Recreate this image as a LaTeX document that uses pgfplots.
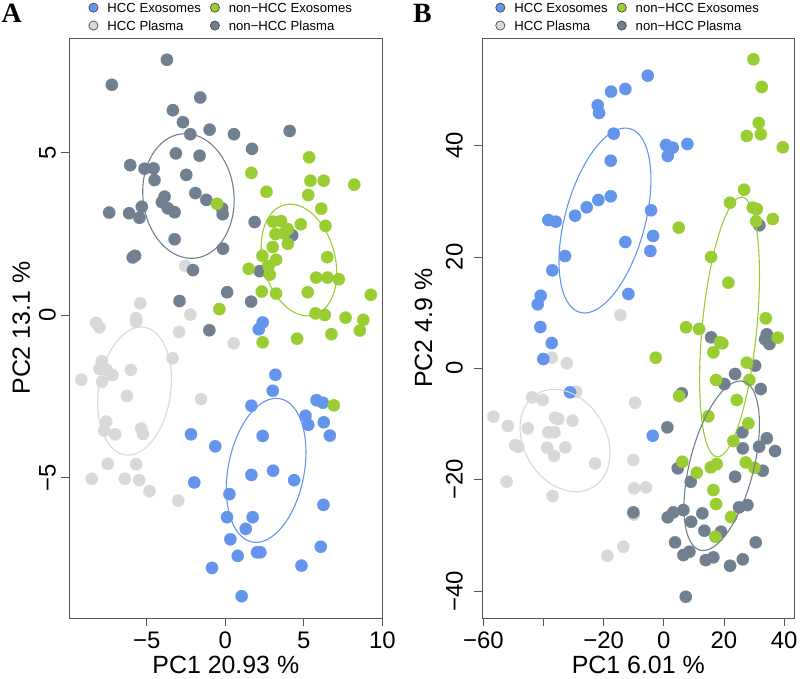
\documentclass[border=0pt]{standalone}
\usepackage{fontspec}
\setmainfont{Liberation Sans}
\newfontfamily\lserif{Liberation Serif}
\usepackage{pgfplots}
\pgfplotsset{compat=1.18}
\definecolor{cblue}{HTML}{6495ED}
\definecolor{cgreen}{HTML}{9ACD32}
\definecolor{clight}{HTML}{D9D9D9}
\definecolor{cdark}{HTML}{708090}
\definecolor{cbox}{HTML}{555555}
\pgfplotsset{
  pca/.style={
    scale only axis, height=580.3bp,
    axis line style={cbox, line width=0.9bp},
    xtick pos=bottom, ytick pos=left,
    tick align=outside, major tick length=8bp,
    tick style={cbox, line width=0.9bp},
    ticklabel style={font=\fontsize{24}{28}\selectfont, inner sep=0pt},
    xticklabel style={anchor=north},
    yticklabel style={rotate=90, anchor=south},
    every axis x label/.style={at={(axis description cs:0.5,0)}, anchor=base, yshift=-55.5bp, inner sep=0pt, font=\fontsize{25}{30}\selectfont},
    clip=true,
    legend columns=2,
    legend cell align=left,
    legend style={draw=none, fill=none, inner sep=0pt, outer sep=0pt,
      font=\fontsize{13.2}{15}\selectfont, row sep=8bp,
      nodes={inner sep=0pt, text height=9.5bp, text depth=0pt},
      /tikz/every odd column/.append style={column sep=9bp},
      /tikz/every even column/.append style={column sep=9bp}},
    legend image code/.code={\filldraw[#1] (4.6bp,0bp) circle[radius=4.6bp];},
  },
  pt/.style={only marks, mark=*, color=#1, mark size=6.2bp, mark options={draw=#1, fill=#1, line width=0.1pt}, forget plot},
}
\begin{document}
\begin{tikzpicture}
\useasboundingbox (0,0) rectangle (800bp,679bp);
% ---------------- Panel A
\begin{axis}[pca, at={(69.3bp,60.7bp)}, anchor=south west, width=313bp,
  xmin=-9.94, xmax=10.0, ymin=-9.33, ymax=8.52,
  xtick={-5,0,5,10}, xticklabels={−5,0,5,10},
  ytick={-5,0,5}, yticklabels={−5,0,5},
  xticklabel shift=5.4bp, yticklabel shift=5.3bp,
  xlabel={PC1 20.93 \%}, ylabel={PC2 13.1 \%},
  every axis y label/.style={at={(axis description cs:-0.1256,0.5)}, rotate=90, anchor=base, font=\fontsize{25}{30}\selectfont},
  legend style={at={(axis description cs:0,1)}, anchor=north west, xshift=19.2bp, yshift=35.3bp}]
\addplot[pt=clight] coordinates {(-5.42,0.36) (-8.23,-0.24) (-8.02,-0.38) (-5.68,-0.10) (-5.68,-0.21) (-2.23,0.01) (-2.95,-0.52) (-3.36,-1.33) (-7.87,-1.42) (-8.02,-1.66) (-7.55,-1.69) (-7.19,-1.85) (-6.02,-1.69) (-9.17,-1.99) (-7.85,-2.05) (-6.27,-2.49) (-1.55,-2.59) (-7.59,-3.28) (-7.72,-3.56) (-7.02,-3.67) (-5.36,-3.49) (-5.25,-3.66) (-7.49,-4.58) (-5.68,-4.59) (-8.51,-5.04) (-6.40,-5.04) (-5.49,-5.08) (-4.83,-5.42) (-3.00,-5.71) (-2.55,1.51) (0.53,-0.87)};
\addplot[pt=cdark] coordinates {(-3.72,7.85) (-7.23,7.08) (-1.60,6.69) (-3.34,6.30) (-2.70,5.93) (-2.23,5.56) (-1.00,5.70) (0.55,5.56) (4.10,5.66) (1.70,5.11) (-3.15,4.97) (-1.64,4.90) (-6.06,4.61) (-5.15,4.50) (-4.57,4.51) (-4.51,4.15) (-2.49,4.31) (-1.91,3.75) (-1.21,3.54) (-0.21,3.28) (-0.17,3.10) (-3.87,3.64) (-4.04,3.47) (-3.66,3.28) (-3.23,3.16) (-5.32,3.33) (-6.13,3.13) (-5.47,2.99) (-7.40,3.15) (-3.23,2.33) (-0.15,2.04) (-5.9,1.77) (-5.75,1.82) (-2.06,1.38) (-2.92,0.43) (0.11,0.70) (1.87,2.86) (4.26,2.45) (2.19,1.35) (1.64,0.41) (-1.02,-0.47)};
\addplot[pt=cblue] coordinates {(-2.19,-3.67) (-0.64,-4.04) (-1.98,-5.15) (-0.85,-7.78) (2.38,-0.23) (2.13,-0.44) (3.19,-1.84) (3.02,-2.33) (1.66,-2.79) (5.81,-2.62) (6.21,-2.70) (5.11,-3.10) (5.28,-3.38) (6.27,-3.30) (6.66,-3.71) (2.38,-3.72) (1.66,-4.92) (3.04,-4.79) (4.38,-5.08) (0.26,-5.51) (0.11,-6.22) (1.74,-6.22) (1.30,-6.58) (0.32,-6.90) (0.79,-7.41) (2.02,-7.30) (2.23,-7.30) (6.25,-5.84) (6.08,-7.13) (4.85,-7.71) (1.04,-8.65)};
\addplot[pt=cgreen] coordinates {(-0.53,3.42) (-0.38,0.18) (5.34,4.85) (1.66,4.37) (5.42,4.13) (6.27,4.13) (8.21,4.01) (2.62,3.79) (5.28,3.69) (6.11,3.27) (3.04,2.87) (3.55,2.89) (4.81,2.79) (6.38,2.74) (3.98,2.64) (3.19,2.49) (3.72,2.51) (3.98,2.19) (3.02,2.09) (2.36,1.82) (3.23,1.70) (6.49,1.78) (2.76,1.51) (1.49,1.42) (2.83,1.24) (5.79,1.15) (6.51,1.15) (7.23,1.10) (2.32,0.72) (3.23,0.66) (5.25,0.70) (9.27,0.62) (5.74,0.05) (6.34,0.0) (7.66,-0.08) (8.79,-0.15) (8.57,-0.48) (6.76,-0.59) (4.57,-0.73) (2.38,-0.84) (6.91,-2.78)};
\coordinate (eAd) at (axis cs:-2.35,3.66);
\coordinate (eAg) at (axis cs:4.69,1.69);
\coordinate (eAl) at (axis cs:-5.78,-2.34);
\coordinate (eAb) at (axis cs:2.60,-4.78);
\addlegendimage{fill=cblue, draw=black!70, line width=0.7bp}
\addlegendentry{HCC Exosomes}
\addlegendimage{fill=cgreen, draw=black!70, line width=0.7bp}
\addlegendentry{non−HCC Exosomes}
\addlegendimage{fill=clight, draw=black!70, line width=0.7bp}
\addlegendentry{HCC Plasma}
\addlegendimage{fill=cdark, draw=black!70, line width=0.7bp}
\addlegendentry{non−HCC Plasma}
\end{axis}
\draw[cdark, line width=1.1bp, rotate around={6:(eAd)}] (eAd) ellipse [x radius=45.5bp, y radius=62.5bp];
\draw[cgreen, line width=1.1bp, rotate around={15:(eAg)}] (eAg) ellipse [x radius=36bp, y radius=57bp];
\draw[clight, line width=1.1bp, rotate around={-8.5:(eAl)}] (eAl) ellipse [x radius=36bp, y radius=64.5bp];
\draw[cblue, line width=1.1bp, rotate around={-11:(eAb)}] (eAb) ellipse [x radius=38bp, y radius=73bp];
% ---------------- Panel B
\begin{axis}[pca, at={(482.3bp,60.7bp)}, anchor=south west, width=312bp,
  xmin=-60.4, xmax=43.4, ymin=-44.9, ymax=59.33,
  xtick={-60,-40,-20,0,20,40}, xticklabels={−60,,−20,0,20,40},
  ytick={-40,-20,0,20,40}, yticklabels={−40,−20,0,20,40},
  xticklabel shift=5.4bp, yticklabel shift=11.3bp,
  xlabel={PC1 6.01 \%}, ylabel={PC2 4.9 \%},
  every axis y label/.style={at={(axis description cs:-0.161,0.5)}, rotate=90, anchor=base, font=\fontsize{25}{30}\selectfont},
  legend style={at={(axis description cs:0,1)}, anchor=north west, xshift=13.1bp, yshift=35.3bp}]
\addplot[pt=clight] coordinates {(-14.48,9.57) (-37.3,1.90) (-32.3,0.90) (-29.2,-4.20) (-43.8,-5.21) (-40.3,-5.69) (-56.7,-8.69) (-51.9,-10.37) (-45.3,-10.78) (-36.2,-8.87) (-35.1,-9.11) (-30.4,-9.41) (-38.4,-11.5) (-36.4,-11.5) (-49.5,-13.8) (-48.4,-14.1) (-38.8,-14.26) (-32.8,-14.2) (-36.5,-15.75) (-22.9,-17.07) (-52.3,-20.37) (-37.0,-22.94) (-13.48,-32.05) (-18.8,-33.66) (-9.58,-6.18) (-10.15,-16.47) (-9.92,-21.56) (-5.92,-21.38) (-10.0,-26.3)};
\addplot[pt=cdark] coordinates {(31.78,25.69) (15.71,5.57) (34.24,6.11) (33.68,5.21) (35.11,4.37) (30.35,0.47) (23.69,-1.02) (20.13,-2.82) (32.25,-3.72) (5.96,-4.49) (1.16,-10.60) (26.12,-11.50) (34.24,-12.57) (26.26,-14.37) (31.68,-14.08) (36.99,-14.86) (4.63,-17.96) (32.91,-18.39) (23.69,-19.47) (8.95,-20.37) (-10.15,-25.87) (1.30,-26.77) (3.16,-25.87) (6.49,-25.46) (12.81,-26.05) (9.05,-27.56) (25.02,-24.97) (27.79,-24.56) (13.48,-29.17) (19.03,-29.35) (3.73,-31.26) (30.58,-31.26) (6.49,-33.54) (8.49,-32.95) (13.94,-34.44) (16.47,-33.95) (22.03,-35.46) (26.26,-34.31) (7.29,-41.03)};
\addplot[pt=cblue] coordinates {(-17.57,49.69) (-12.81,50.17) (-22.0,47.24) (-21.56,45.86) (-16.67,42.14) (-17.67,37.29) (-17.67,30.90) (-21.8,30.23) (-25.66,28.92) (-29.55,27.41) (-38.44,26.64) (-35.97,26.34) (-12.81,22.69) (-32.88,20.17) (-37.1,17.60) (-40.97,13.04) (-41.96,11.50) (-11.8,13.35) (-5.36,52.56) (0.73,40.11) (2.96,39.63) (1.30,38.14) (7.82,40.29) (-4.26,28.38) (-3.59,23.77) (-4.49,21.07) (-41.1,7.42) (-37.3,4.54) (-40.1,1.67) (-31.2,-4.31) (-3.70,-12.11)};
\addplot[pt=cgreen] coordinates {(29.78,55.5) (32.58,50.53) (31.58,44.07) (27.59,41.73) (32.25,42.03) (39.57,39.7) (26.69,32.08) (22.03,29.75) (29.58,28.85) (30.92,28.62) (36.24,26.82) (30.68,26.41) (4.96,25.26) (15.71,19.99) (21.46,15.38) (33.91,8.98) (7.39,7.37) (11.71,7.06) (37.9,5.50) (18.7,4.67) (19.47,4.49) (16.47,2.87) (-2.70,1.90) (27.59,1.01) (17.37,-2.10) (28.45,-2.10) (5.06,-4.98) (24.26,-5.69) (14.81,-8.62) (28.12,-9.88) (23.13,-13.06) (6.16,-16.78) (10.95,-18.75) (15.61,-17.78) (17.6,-17.19) (27.25,-16.89) (30.12,-17.86) (16.47,-21.86) (17.37,-24.38) (22.36,-26.71) (17.14,-30.25)};
\coordinate (eBb) at (axis cs:-19.57,26.55);
\coordinate (eBg) at (axis cs:21.86,7.42);
\coordinate (eBd) at (axis cs:19.27,-17.51);
\coordinate (eBl) at (axis cs:-32.88,-12.97);
\addlegendimage{fill=cblue, draw=black!70, line width=0.7bp}
\addlegendentry{HCC Exosomes}
\addlegendimage{fill=cgreen, draw=black!70, line width=0.7bp}
\addlegendentry{non−HCC Exosomes}
\addlegendimage{fill=clight, draw=black!70, line width=0.7bp}
\addlegendentry{HCC Plasma}
\addlegendimage{fill=cdark, draw=black!70, line width=0.7bp}
\addlegendentry{non−HCC Plasma}
\end{axis}
\draw[cblue, line width=1.1bp, rotate around={-15.2:(eBb)}] (eBb) ellipse [x radius=40bp, y radius=95.2bp];
\draw[cgreen, line width=1.1bp, rotate around={-5.5:(eBg)}] (eBg) ellipse [x radius=27.3bp, y radius=130.5bp];
\draw[cdark, line width=1.1bp, rotate around={-14.3:(eBd)}] (eBd) ellipse [x radius=32bp, y radius=87.1bp];
\draw[clight, line width=1.1bp, rotate around={31:(eBl)}] (eBl) ellipse [x radius=41.1bp, y radius=54.4bp];
% panel letters
\node[anchor=base west, inner sep=0pt, font=\lserif\bfseries\fontsize{28}{30}\selectfont] at (1.5bp,656.3bp) {A};
\node[anchor=base west, inner sep=0pt, font=\lserif\bfseries\fontsize{28}{30}\selectfont] at (413bp,656.3bp) {B};
\end{tikzpicture}
\end{document}
